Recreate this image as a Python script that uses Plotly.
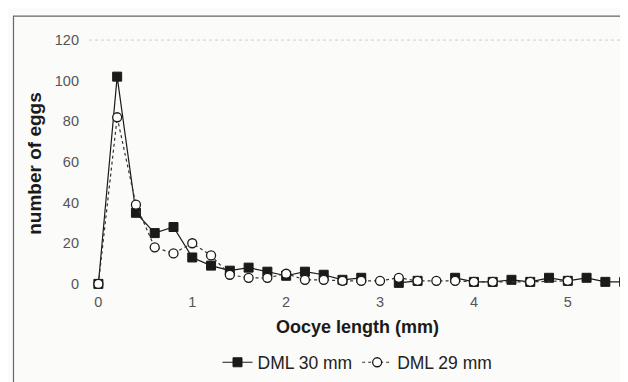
import plotly.graph_objects as go

oocyte_length = [0, 0.2, 0.4, 0.6, 0.8, 1.0, 1.2, 1.4, 1.6, 1.8, 2.0, 2.2, 2.4, 2.6, 2.8,
                 3.0, 3.2, 3.4, 3.6, 3.8, 4.0, 4.2, 4.4, 4.6, 4.8, 5.0, 5.2, 5.4, 5.6]
dml30 = [0, 102, 35, 25, 28, 13, 9, 6.5, 8, 6, 4, 6, 4.5, 2, 3,
         None, 0.5, 1.5, None, 3, 1, 1, 2, 1, 3, 1.5, 3, 1, 1]
dml29 = [0, 82, 39, 18, 15, 20, 14, 4.5, 3, 3, 5, 2, 2, 1.5, 1.5,
         1.5, 3, 1.5, 1.5, 1.5, 1, 1, None, 1, None, 1.5, None, None, None]
y_ticks = [0, 20, 40, 60, 80, 100, 120]
x_ticks = [0, 1, 2, 3, 4, 5]

fig = go.Figure()
fig.add_trace(go.Scatter(
    x=oocyte_length, y=dml30, name="DML 30 mm", mode="lines+markers",
    line=dict(color="#1a1a1a", width=1.2),
    marker=dict(symbol="square", size=9, color="#1a1a1a", line=dict(color="#1a1a1a", width=1)),
    connectgaps=False,
))
fig.add_trace(go.Scatter(
    x=oocyte_length, y=dml29, name="DML 29 mm", mode="lines+markers",
    line=dict(color="#333333", width=1.2, dash="dot"),
    marker=dict(symbol="circle", size=9, color="white", line=dict(color="#1a1a1a", width=1.3)),
    connectgaps=True,
))

fig.update_layout(
    width=628, height=382,
    margin=dict(l=81, r=10, t=28, b=99),
    paper_bgcolor="#fbfbf9", plot_bgcolor="#fbfbf9",
    font=dict(family="Liberation Sans, Arial, sans-serif", color="#333333", size=14),
    showlegend=True,
    legend=dict(orientation="h", x=0.5, xanchor="center", y=-0.28, yanchor="middle",
                font=dict(size=17.5, color="#222222"), bgcolor="rgba(0,0,0,0)"),
    shapes=[
        dict(type="line", xref="paper", yref="y", x0=0, x1=1, y0=120, y1=120,
             line=dict(color="#cccccc", width=1, dash="dot"), layer="below"),
        dict(type="rect", xref="paper", yref="paper",
             x0=-0.1406, x1=1.0125, y0=-0.3725, y1=1.078,
             line=dict(color="#666666", width=1.2), fillcolor="rgba(0,0,0,0)"),
    ],
)
fig.update_xaxes(
    range=[-0.1, 5.62], tickvals=x_ticks, showgrid=False, zeroline=False, showline=False,
    ticks="", tickfont=dict(size=14.5, color="#555555"),
    title=dict(text="<b>Oocye length (mm)</b>", font=dict(size=18, color="#1a1a1a"), standoff=11),
)
fig.update_yaxes(
    range=[-3.5, 122], tickvals=y_ticks, showgrid=False, zeroline=False, showline=False,
    ticks="", tickfont=dict(size=14.5, color="#555555"), ticklabelstandoff=9,
    title=dict(text="<b>number of eggs</b>", font=dict(size=19, color="#1a1a1a"), standoff=8),
)

fig.write_html("out.html")
